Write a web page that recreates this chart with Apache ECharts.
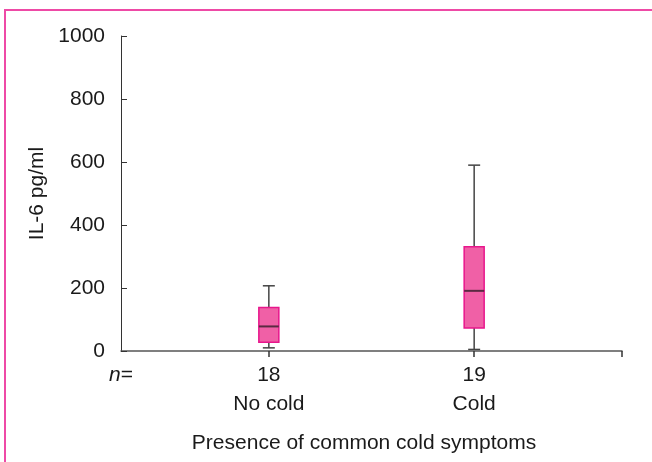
<!DOCTYPE html>
<html>
<head>
<meta charset="utf-8">
<script src="https://cdn.jsdelivr.net/npm/echarts@6/dist/echarts.min.js"></script>
<style>html,body{margin:0;padding:0;background:#fff;}#c{width:652px;height:462px;}</style>
</head>
<body>
<div id="c"></div>
<script>
// Data
var groups = ['No cold', 'Cold'];
var nCounts = ['18', '19'];
var groupPos = [1, 2];
// [min, Q1, median, Q3, max]
var noColdStats = [10, 28, 78, 138, 207];
var coldStats = [5, 73, 191, 331, 590];
var yTicks = [0, 200, 400, 600, 800, 1000];

var boxData = [
  [groupPos[0]].concat(noColdStats),
  [groupPos[1]].concat(coldStats)
];

var FONT = "'Liberation Sans', Arial, Helvetica, sans-serif";
var TXT = '#1a1a1a';

var chart = echarts.init(document.getElementById('c'), null, {renderer: 'canvas'});
chart.setOption({
  animation: false,
  backgroundColor: '#fff',
  grid: {left: 121, right: 30, top: 36, bottom: 111, containLabel: false},
  xAxis: {
    type: 'value',
    min: 0.28,
    max: 2.72,
    splitLine: {show: false},
    axisLine: {lineStyle: {color: '#555', width: 1.5}},
    axisTick: {show: true, length: 6, customValues: [groupPos[0], groupPos[1], 2.72], lineStyle: {color: '#333', width: 1.5}},
    axisLabel: {
      customValues: [0.28, groupPos[0], groupPos[1]],
      margin: 10,
      hideOverlap: false,
      formatter: function (v) {
        if (v < 0.5) return '{i|n}{t|=}';
        var idx = groupPos.indexOf(Math.round(v));
        return '{t|' + nCounts[idx] + '}\n{t|' + groups[idx] + '}';
      },
      rich: {
        t: {fontFamily: FONT, fontSize: 21, color: TXT, lineHeight: 29},
        i: {fontFamily: FONT, fontSize: 21, color: TXT, lineHeight: 29, fontStyle: 'italic'}
      }
    }
  },
  yAxis: {
    type: 'value',
    min: yTicks[0],
    max: yTicks[yTicks.length - 1],
    interval: 200,
    name: 'IL-6 pg/ml',
    nameLocation: 'middle',
    nameGap: 70,
    nameTextStyle: {fontFamily: FONT, fontSize: 21, color: TXT},
    splitLine: {show: false},
    axisLine: {show: true, lineStyle: {color: '#333', width: 1}},
    axisTick: {show: true, inside: true, length: 6, lineStyle: {color: '#333'}},
    axisLabel: {margin: 16, fontFamily: FONT, fontSize: 21, color: TXT, formatter: function (v) { return String(v); }}
  },
  graphic: [
    {type: 'rect', shape: {x: 5, y: 10, width: 700, height: 500}, style: {fill: 'none', stroke: '#ee4aa6', lineWidth: 2}, silent: true},
    {type: 'text', style: {text: 'Presence of common cold symptoms', fontFamily: FONT, fontSize: 21, fill: TXT, x: 364, y: 443, textAlign: 'center', textVerticalAlign: 'middle'}}
  ],
  series: [{
    type: 'custom',
    data: boxData,
    encode: {x: 0, y: [1, 2, 3, 4, 5]},
    renderItem: function (params, api) {
      var x = api.value(0);
      var lo = api.coord([x, api.value(1)]);
      var q1 = api.coord([x, api.value(2)]);
      var md = api.coord([x, api.value(3)]);
      var q3 = api.coord([x, api.value(4)]);
      var hi = api.coord([x, api.value(5)]);
      var cx = lo[0], hw = 10, cw = 6;
      var wStyle = {stroke: '#444', lineWidth: 1.5};
      return {type: 'group', children: [
        {type: 'line', shape: {x1: cx, y1: hi[1], x2: cx, y2: q3[1]}, style: wStyle},
        {type: 'line', shape: {x1: cx, y1: q1[1], x2: cx, y2: lo[1]}, style: wStyle},
        {type: 'line', shape: {x1: cx - cw, y1: hi[1], x2: cx + cw, y2: hi[1]}, style: wStyle},
        {type: 'line', shape: {x1: cx - cw, y1: lo[1], x2: cx + cw, y2: lo[1]}, style: wStyle},
        {type: 'rect', shape: {x: cx - hw, y: q3[1], width: hw * 2, height: q1[1] - q3[1]}, style: {fill: '#f060a6', stroke: '#e8168c', lineWidth: 1.5}},
        {type: 'line', shape: {x1: cx - hw, y1: md[1], x2: cx + hw, y2: md[1]}, style: {stroke: '#5a2a42', lineWidth: 2}}
      ]};
    }
  }]
});
</script>
</body>
</html>
